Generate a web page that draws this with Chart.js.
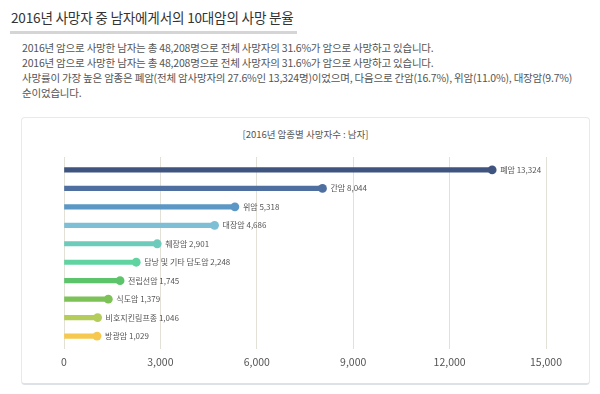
<!DOCTYPE html>
<html><head><meta charset="utf-8">
<script src="https://cdn.jsdelivr.net/npm/chart.js@4/dist/chart.umd.min.js"></script>
<style>
html,body{margin:0;padding:0;background:#fff;width:600px;height:394px;overflow:hidden;font-family:"Noto Sans CJK KR","Noto Sans",sans-serif;}
#title{position:absolute;left:11px;top:7px;font-size:13.6px;color:#333;letter-spacing:-0.2px;white-space:nowrap;}
#uline{position:absolute;left:10px;top:31px;width:287px;height:3px;background:#d5d5d5;}
#desc{position:absolute;left:22px;top:40px;font-size:10.5px;line-height:15px;color:#555;white-space:nowrap;letter-spacing:-0.2px;}
#box{position:absolute;left:21px;top:117px;width:567px;height:265px;border:1px solid #e6e9ee;border-bottom:2px solid #dde2e8;border-radius:4px;}
#ctitle{position:absolute;left:0;width:100%;top:9px;text-align:center;font-size:9.5px;color:#555;}
#wrap{position:absolute;left:0;top:0;width:567px;height:266px;}
</style></head>
<body>
<div id="title">2016년 사망자 중 남자에게서의 10대암의 사망 분율</div>
<div id="uline"></div>
<div id="desc">2016년 암으로 사망한 남자는 총 48,208명으로 전체 사망자의 31.6%가 암으로 사망하고 있습니다.<br>2016년 암으로 사망한 남자는 총 48,208명으로 전체 사망자의 31.6%가 암으로 사망하고 있습니다.<br>사망률이 가장 높은 암종은 폐암(전체 암사망자의 27.6%인 13,324명)이었으며, 다음으로 간암(16.7%), 위암(11.0%), 대장암(9.7%)<br>순이었습니다.</div>
<div id="box">
  <div id="ctitle">[2016년 암종별 사망자수 : 남자]</div>
  <div id="wrap"><canvas id="c" width="567" height="266"></canvas></div>
</div>
<script>
const categories = ["폐암","간암","위암","대장암","췌장암","담낭 및 기타 담도암","전립선암","식도암","비호지킨림프종","방광암"];
const deaths = [13324, 8044, 5318, 4686, 2901, 2248, 1745, 1379, 1046, 1029];
const colors = ["#3f5580","#4e6f9f","#5b98c6","#7ebfd5","#6ccbbb","#5fd3a0","#5cc46a","#7cc257","#b4cc5a","#f6c84f"];
const xTicks = [0, 3000, 6000, 9000, 12000, 15000];

const pts = deaths.map((v, i) => ({x: v, y: i}));

const labelPlugin = {
  id: 'lbl',
  afterDatasetsDraw(chart) {
    const ctx = chart.ctx;
    const meta = chart.getDatasetMeta(1);
    ctx.save();
    ctx.font = '8px "Noto Sans CJK KR", sans-serif';
    ctx.fillStyle = '#555';
    ctx.textBaseline = 'middle';
    ctx.textAlign = 'left';
    meta.data.forEach((p, i) => {
      ctx.fillText(categories[i] + ' ' + deaths[i].toLocaleString('en-US'), p.x + 8, p.y);
    });
    ctx.restore();
  }
};

new Chart(document.getElementById('c'), {
  type: 'bar',
  data: {
    datasets: [
      { type: 'bar', data: pts, backgroundColor: colors, barThickness: 4.5, borderWidth: 0, indexAxis: 'y' },
      { type: 'line', data: pts, showLine: false, pointRadius: 4.4, pointHoverRadius: 4.4,
        pointBackgroundColor: colors, pointBorderWidth: 0, indexAxis: 'y' }
    ]
  },
  options: {
    indexAxis: 'y',
    responsive: false,
    animation: false,
    events: [],
    layout: { padding: { left: 42, right: 43, top: 39, bottom: 0 } },
    plugins: { legend: { display: false }, tooltip: { enabled: false } },
    scales: {
      x: {
        type: 'linear', min: 0, max: 15000,
        afterBuildTicks(s) { s.ticks = xTicks.map(v => ({ value: v })); },
        afterFit(s) { s.height = 35; },
        grid: { color: '#e3e0d8', drawTicks: false, lineWidth: 1 },
        border: { display: false },
        ticks: { padding: 7, color: '#555', font: { size: 10.5, family: '"Noto Sans CJK KR", sans-serif' },
                 callback: v => v.toLocaleString('en-US') }
      },
      y: {
        type: 'linear', min: -0.7, max: 9.7, reverse: true, display: false, offset: false
      }
    }
  },
  plugins: [labelPlugin]
});
</script>
</body></html>
